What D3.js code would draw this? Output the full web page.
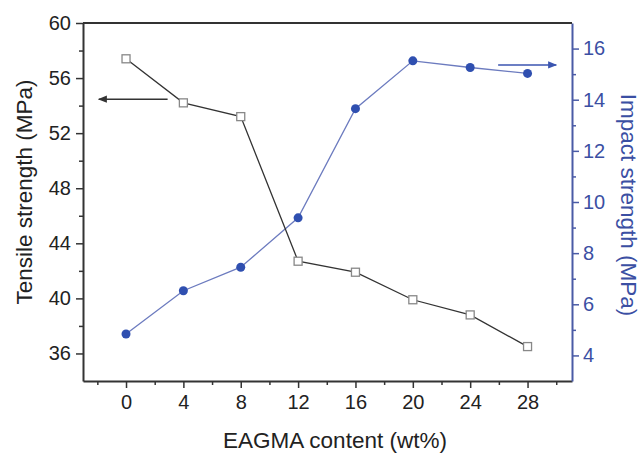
<html>
<head>
<script src="https://d3js.org/d3.v7.min.js"></script>
<style>
  body { margin: 0; background: #fff; }
  text { font-family: "Liberation Sans", Arial, sans-serif; }
  .axis text { font-size: 20px; }
  .bottom.axis text, .left.axis text { fill: #222; }
  .left.axis path, .left.axis line, .bottom.axis path, .bottom.axis line { stroke: #333; }
  .right.axis path, .right.axis line { stroke: #4a5ba6; }
  .right.axis text { fill: #3b4fa3; }
  .label { font-size: 22.5px; }
</style>
</head>
<body>
<svg id="chart" width="643" height="453"></svg>
<script>
  // data
  const content = [0, 4, 8, 12, 16, 20, 24, 28];
  const tensile = [57.4, 54.2, 53.2, 42.7, 41.9, 39.9, 38.8, 36.5];
  const impact = [4.84, 6.53, 7.45, 9.38, 13.65, 15.52, 15.26, 15.03];

  const xTicks = [0, 4, 8, 12, 16, 20, 24, 28];
  const xMinor = [-2, 2, 6, 10, 14, 18, 22, 26, 30];
  const leftTicks = [36, 40, 44, 48, 52, 56, 60];
  const leftMinor = [38, 42, 46, 50, 54, 58];
  const rightTicks = [4, 6, 8, 10, 12, 14, 16];
  const rightMinor = [5, 7, 9, 11, 13, 15];

  // arrows pointing at the axis each series belongs to
  const leftArrow = {x1: 2.9, x2: -1.9, y: 54.47};
  const rightArrow = {x1: 25.95, x2: 30.0, y: 15.36};

  const svg = d3.select("#chart");
  const margin = {top: 23, right: 71, bottom: 72, left: 83};
  const W = 643, H = 453;

  const x = d3.scaleLinear().domain([-3, 31.1]).range([margin.left, W - margin.right]);
  const yL = d3.scaleLinear().domain([34, 60]).range([H - margin.bottom, margin.top]);
  const yR = d3.scaleLinear().domain([3, 17]).range([H - margin.bottom, margin.top]);

  const defs = svg.append("defs");
  defs.append("marker").attr("id", "arrBlack")
    .attr("viewBox", "0 0 10 10").attr("refX", 9).attr("refY", 5)
    .attr("markerWidth", 7).attr("markerHeight", 6).attr("orient", "auto")
    .append("path").attr("d", "M0,1L10,5L0,9Z").attr("fill", "#333");
  defs.append("marker").attr("id", "arrBlue")
    .attr("viewBox", "0 0 10 10").attr("refX", 9).attr("refY", 5)
    .attr("markerWidth", 7).attr("markerHeight", 6).attr("orient", "auto")
    .append("path").attr("d", "M0,1L10,5L0,9Z").attr("fill", "#3b55b0");

  // minor ticks first
  svg.append("g").attr("class", "bottom axis")
    .attr("transform", "translate(0," + (H - margin.bottom) + ")")
    .call(d3.axisBottom(x).tickValues(xMinor).tickSize(4).tickFormat(""))
    .call(g => g.select(".domain").remove())
    .selectAll("line").attr("stroke-width", 1.5);
  svg.append("g").attr("class", "left axis")
    .attr("transform", "translate(" + margin.left + ",0)")
    .call(d3.axisLeft(yL).tickValues(leftMinor).tickSize(4).tickFormat(""))
    .call(g => g.select(".domain").remove())
    .selectAll("line").attr("stroke-width", 1.5);
  svg.append("g").attr("class", "right axis")
    .attr("transform", "translate(" + (W - margin.right) + ",0)")
    .call(d3.axisRight(yR).tickValues(rightMinor).tickSize(4).tickFormat(""))
    .call(g => g.select(".domain").remove())
    .selectAll("line").attr("stroke-width", 1.5);

  // major ticks
  const bottomAxis = svg.append("g").attr("class", "bottom axis")
    .attr("transform", "translate(0," + (H - margin.bottom) + ")")
    .call(d3.axisBottom(x).tickValues(xTicks).tickSizeInner(7).tickSizeOuter(0).tickPadding(7));
  bottomAxis.select(".domain").attr("stroke-width", 2);
  bottomAxis.selectAll("line").attr("stroke-width", 1.5);

  const leftAxis = svg.append("g").attr("class", "left axis")
    .attr("transform", "translate(" + margin.left + ",0)")
    .call(d3.axisLeft(yL).tickValues(leftTicks).tickSizeInner(7).tickSizeOuter(0).tickPadding(5));
  leftAxis.select(".domain").attr("stroke-width", 2);
  leftAxis.selectAll("line").attr("stroke-width", 1.5);

  const rightAxis = svg.append("g").attr("class", "right axis")
    .attr("transform", "translate(" + (W - margin.right) + ",0)")
    .call(d3.axisRight(yR).tickValues(rightTicks).tickSizeInner(7).tickSizeOuter(0).tickPadding(4));
  rightAxis.select(".domain").attr("stroke-width", 2);
  rightAxis.selectAll("line").attr("stroke-width", 1.5);

  // top frame line
  svg.append("line")
    .attr("x1", margin.left).attr("x2", W - margin.right)
    .attr("y1", margin.top).attr("y2", margin.top)
    .attr("stroke", "#333").attr("stroke-width", 2);

  // series
  const tData = content.map((c, i) => ({x: c, y: tensile[i]}));
  const iData = content.map((c, i) => ({x: c, y: impact[i]}));

  svg.append("path").datum(iData)
    .attr("fill", "none").attr("stroke", "#6c7bbf").attr("stroke-width", 1.3)
    .attr("d", d3.line().x(d => x(d.x)).y(d => yR(d.y)));
  svg.append("path").datum(tData)
    .attr("fill", "none").attr("stroke", "#333").attr("stroke-width", 1.3)
    .attr("d", d3.line().x(d => x(d.x)).y(d => yL(d.y)));

  svg.selectAll("circle.imp").data(iData).join("circle")
    .attr("class", "imp")
    .attr("cx", d => x(d.x)).attr("cy", d => yR(d.y)).attr("r", 4.5)
    .attr("fill", "#2f4fb0");

  svg.selectAll("rect.ten").data(tData).join("rect")
    .attr("class", "ten")
    .attr("x", d => x(d.x) - 4).attr("y", d => yL(d.y) - 4)
    .attr("width", 8).attr("height", 8)
    .attr("fill", "#fff").attr("stroke", "#888").attr("stroke-width", 1.3);

  // arrows
  svg.append("line")
    .attr("x1", x(leftArrow.x1)).attr("x2", x(leftArrow.x2))
    .attr("y1", yL(leftArrow.y)).attr("y2", yL(leftArrow.y))
    .attr("stroke", "#333").attr("stroke-width", 1.5)
    .attr("marker-end", "url(#arrBlack)");
  svg.append("line")
    .attr("x1", x(rightArrow.x1)).attr("x2", x(rightArrow.x2))
    .attr("y1", yR(rightArrow.y)).attr("y2", yR(rightArrow.y))
    .attr("stroke", "#3b55b0").attr("stroke-width", 1.5)
    .attr("marker-end", "url(#arrBlue)");

  // axis labels
  svg.append("text").attr("class", "label")
    .attr("text-anchor", "middle")
    .attr("x", 335).attr("y", 448)
    .attr("fill", "#222")
    .text("EAGMA content (wt%)");

  svg.append("text").attr("class", "label")
    .attr("text-anchor", "middle")
    .attr("transform", "translate(32,192) rotate(-90)")
    .attr("fill", "#222")
    .text("Tensile strength (MPa)");

  svg.append("text").attr("class", "label")
    .attr("text-anchor", "middle")
    .attr("transform", "translate(621,205) rotate(90)")
    .attr("fill", "#3b4fa3")
    .text("Impact strength (MPa)");
</script>
</body>
</html>
